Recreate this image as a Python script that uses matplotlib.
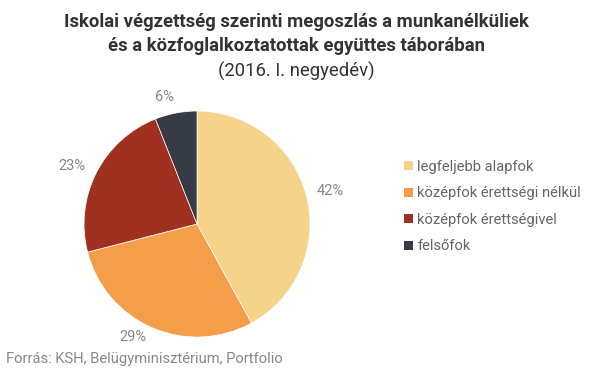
import matplotlib.pyplot as plt
from matplotlib.patches import Patch

plt.rcParams['font.family'] = ['Roboto', 'DejaVu Sans']

# data
categories = ['legfeljebb alapfok', 'középfok érettségi nélkül',
              'középfok érettségivel', 'felsőfok']
values = [42, 29, 23, 6]
colors = ['#F5D38A', '#F59E4A', '#A0301F', '#363B45']
title_lines = ['Iskolai végzettség szerinti megoszlás a munkanélküliek',
               'és a közfoglalkoztatottak együttes táborában']
subtitle = '(2016. I. negyedév)'
source = 'Forrás: KSH, Belügyminisztérium, Portfolio'

# where the percentage labels sit (in pie radii)
label_pos = [(1.18, 0.29), (-0.57, -1.0), (-1.11, 0.51), (-0.29, 1.12)]

fig = plt.figure(figsize=(5.92, 3.76), dpi=100)

# title, one line at a time
fig.text(0.5, 1 - 22 / 376, title_lines[0], ha='center', va='center',
         fontsize=13.3, fontweight='bold', color='#333333')
fig.text(0.5, 1 - 46 / 376, title_lines[1], ha='center', va='center',
         fontsize=13.3, fontweight='bold', color='#333333')
fig.text(0.5, 1 - 71 / 376, subtitle, ha='center', va='center',
         fontsize=13.3, color='#333333')

ax = fig.add_axes([0.1419, 0.1037, 0.3818, 0.601])
wedges, texts = ax.pie(values, colors=colors, startangle=90, counterclock=False,
                       labels=[f'{v}%' for v in values],
                       wedgeprops=dict(linewidth=0.5, edgecolor='white'),
                       textprops=dict(color='#888888', fontsize=10.5))
for t, p in zip(texts, label_pos):
    t.set_position(p)
    t.set_ha('center')
    t.set_va('center')
ax.set_xlim(-1, 1)
ax.set_ylim(-1, 1)
ax.set_aspect('equal')

handles = [Patch(facecolor=c, edgecolor='none') for c in colors]
fig.legend(handles, categories, loc='upper left', bbox_to_anchor=(0.66, 0.61),
           frameon=False, fontsize=10.6, labelcolor='#666666',
           handlelength=0.6, handleheight=0.6, handletextpad=0.3,
           labelspacing=0.85)

fig.text(0.01, 1 - 359 / 376, source,
         ha='left', va='center', fontsize=10.6, color='#888888')

fig.savefig('out.png', dpi=100)
